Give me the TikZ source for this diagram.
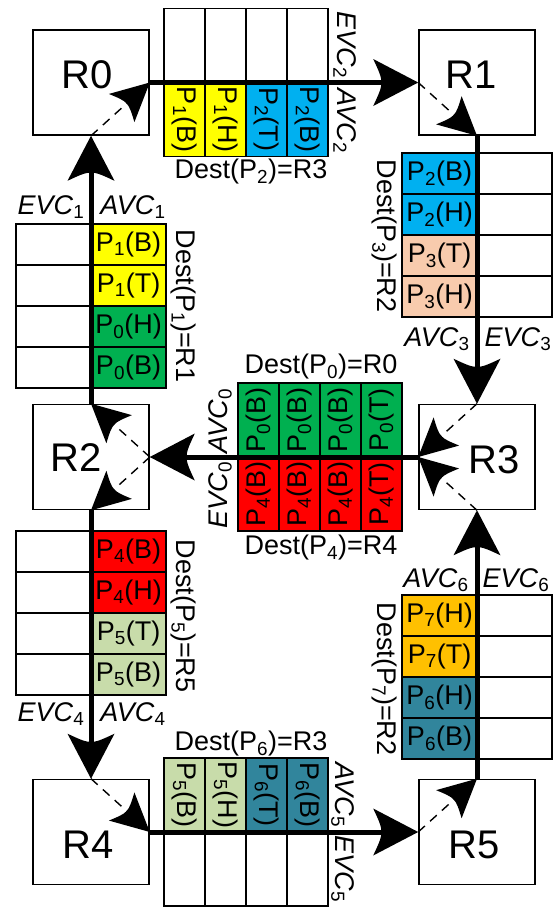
\documentclass[tikz,border=0pt]{standalone}
\usepackage{fontspec}
\setmainfont{Liberation Sans}
\usetikzlibrary{calc}

\definecolor{cyel}{RGB}{255,255,0}
\definecolor{ccyan}{RGB}{0,176,240}
\definecolor{cgreen}{RGB}{0,176,80}
\definecolor{cred}{RGB}{255,0,0}
\definecolor{cpeach}{RGB}{248,203,173}
\definecolor{clime}{RGB}{200,220,170}
\definecolor{camber}{RGB}{255,192,0}
\definecolor{cteal}{RGB}{49,133,156}

% flit of packet #1, kind #2
\newcommand\pk[2]{P\textsubscript{#1}(#2)}
% virtual channel label: #1 = A or E, #2 = index
\newcommand\vcl[2]{\textit{#1VC}\textsubscript{#2}}
\newcommand\routerfont{\fontsize{40}{44}\selectfont}
\newcommand\cellfont{\fontsize{27}{30}\selectfont}
% arrow head #3 at #2, pointing along the direction from #1 to #2
\newcommand\headto[3]{\path let \p1=($(#2)-(#1)$), \n1={atan2(\y1,\x1)} in
  (#2) pic[rotate=\n1] {#3};}

\begin{document}
\begin{tikzpicture}[x=1pt,y=-1pt,
  router/.style={draw, line width=1.6pt, minimum width=116pt, minimum height=105pt,
                 inner sep=0pt},
  rname/.style={font=\routerfont},
  vcell/.style={draw, line width=1.6pt, minimum width=75pt, minimum height=41pt,
                inner sep=0pt, font=\cellfont},
  hcell/.style={draw, line width=1.6pt, minimum width=74pt, minimum height=41pt,
                inner sep=0pt, font=\cellfont},
  txt/.style={font=\cellfont, inner sep=0pt},
  link/.style={line width=5pt, shorten >=10pt},
  routeline/.style={line width=1.4pt, dash pattern=on 9pt off 7pt, shorten >=6pt},
  bighead/.pic={\fill (0,0) -- (-45,23.5) .. controls (-34,0) .. (-45,-23.5) -- cycle;},
  smallhead/.pic={\fill (0,0) -- (-38,19) .. controls (-29,0) .. (-38,-19) -- cycle;},
]
\useasboundingbox (0,0) rectangle (556,908);

% ---------- buffers ----------
% R0 -> R1
\foreach \x/\t/\c [count=\i] in {184.5/{\pk{1}{B}}/cyel, 225.5/{\pk{1}{H}}/cyel,
                                 266.5/{\pk{2}{T}}/ccyan, 307.5/{\pk{2}{B}}/ccyan}{
  \node[hcell, fill=\c, rotate=-90] (ta\i) at (\x,119.5) {\t};
  \node[hcell, rotate=-90] (te\i) at (\x,45.5) {};
}
% R4 -> R5
\foreach \x/\t/\c [count=\i] in {184.5/{\pk{5}{B}}/clime, 225.5/{\pk{5}{H}}/clime,
                                 266.5/{\pk{6}{T}}/cteal, 307.5/{\pk{6}{B}}/cteal}{
  \node[hcell, fill=\c, rotate=-90] (ba\i) at (\x,795) {\t};
  \node[hcell, rotate=-90] (be\i) at (\x,869) {};
}
% R3 -> R2
\foreach \x/\t/\u [count=\i] in {258.5/B/B, 299.5/B/B, 340.5/B/B, 381.5/T/T}{
  \node[hcell, fill=cgreen, rotate=90] (ma\i) at (\x,420) {\pk{0}{\t}};
  \node[hcell, fill=cred, rotate=90] (me\i) at (\x,494) {\pk{4}{\u}};
}
% R2 -> R0
\foreach \y/\t/\c [count=\i] in {244.5/{\pk{1}{B}}/cyel, 285.5/{\pk{1}{T}}/cyel,
                                 326.5/{\pk{0}{H}}/cgreen, 367.5/{\pk{0}{B}}/cgreen}{
  \node[vcell, fill=\c] (la\i) at (128.5,\y) {\t};
  \node[vcell] (le\i) at (53.5,\y) {};
}
% R2 -> R4
\foreach \y/\t/\c [count=\i] in {551.5/{\pk{4}{B}}/cred, 592.5/{\pk{4}{H}}/cred,
                                 633.5/{\pk{5}{T}}/clime, 674.5/{\pk{5}{B}}/clime}{
  \node[vcell, fill=\c] (da\i) at (128.5,\y) {\t};
  \node[vcell] (de\i) at (53.5,\y) {};
}
% R1 -> R3
\foreach \y/\t/\c [count=\i] in {173.5/{\pk{2}{B}}/ccyan, 214.5/{\pk{2}{H}}/ccyan,
                                 255.5/{\pk{3}{T}}/cpeach, 296.5/{\pk{3}{H}}/cpeach}{
  \node[vcell, fill=\c] (ra\i) at (439.5,\y) {\t};
  \node[vcell] (re\i) at (514.5,\y) {};
}
% R5 -> R3
\foreach \y/\t/\c [count=\i] in {615.5/{\pk{7}{H}}/camber, 656.5/{\pk{7}{T}}/camber,
                                 697.5/{\pk{6}{H}}/cteal, 738.5/{\pk{6}{B}}/cteal}{
  \node[vcell, fill=\c] (ua\i) at (439.5,\y) {\t};
  \node[vcell] (ue\i) at (514.5,\y) {};
}

% ---------- routers ----------
\node[router] (R0) at (91,82.5) {};
\node[router] (R1) at (477,82.5) {};
\node[router] (R2) at (91,457) {};
\node[router] (R3) at (477,457) {};
\node[router] (R4) at (91,832) {};
\node[router] (R5) at (477,832) {};
\node[rname] (n0) at (87,75) {R0};
\node[rname] (n1) at (471,75) {R1};
\node[rname] (n2) at (76,458) {R2};
\node[rname] (n3) at (494,460) {R3};
\node[rname] (n4) at (88,845) {R4};
\node[rname] (n5) at (474,845) {R5};

% ---------- links ----------
\foreach \a/\b in {R0.east/R1.west, R1.south/R3.north, R3.west/R2.east,
                   R2.north/R0.south, R2.south/R4.north, R4.east/R5.west,
                   R5.north/R3.south}{
  \draw[link] (\a) -- (\b);
  \headto{\a}{\b}{bighead}
}

% ---------- routing inside the routers ----------
\foreach \a/\b in {R0.south/R0.east, R1.west/R1.south, R2.east/R2.north,
                   R2.east/R2.south, R3.north/R3.west, R3.south/R3.west,
                   R4.north/R4.east, R5.west/R5.north}{
  \draw[routeline] (\a) -- (\b);
  \headto{\a}{\b}{smallhead}
}

% ---------- channel labels ----------
\node[txt, rotate=-90] (evc2) at (345,45) {\vcl{E}{2}};
\node[txt, rotate=-90] (avc2) at (345,121) {\vcl{A}{2}};
\node[txt] (evc1) at (51,207) {\vcl{E}{1}};
\node[txt] (avc1) at (133,207) {\vcl{A}{1}};
\node[txt] (avc3) at (437,339) {\vcl{A}{3}};
\node[txt] (evc3) at (518,339) {\vcl{E}{3}};
\node[txt, rotate=90] (avc0) at (220,421) {\vcl{A}{0}};
\node[txt, rotate=90] (evc0) at (220,495) {\vcl{E}{0}};
\node[txt] (avc6) at (436,580) {\vcl{A}{6}};
\node[txt] (evc6) at (516,580) {\vcl{E}{6}};
\node[txt] (evc4) at (51,714) {\vcl{E}{4}};
\node[txt] (avc4) at (133,714) {\vcl{A}{4}};
\node[txt, rotate=-90] (avc5) at (343,795) {\vcl{A}{5}};
\node[txt, rotate=-90] (evc5) at (343,869) {\vcl{E}{5}};

% ---------- destinations ----------
\node[txt] (d2) at (251,172) {Dest(P\textsubscript{2})=R3};
\node[txt, rotate=-90] (d1) at (183,306) {Dest(P\textsubscript{1})=R1};
\node[txt, rotate=-90] (d3) at (384,236) {Dest(P\textsubscript{3})=R2};
\node[txt] (d0) at (321,367) {Dest(P\textsubscript{0})=R0};
\node[txt] (d4) at (321,548) {Dest(P\textsubscript{4})=R4};
\node[txt, rotate=-90] (d5) at (183,616) {Dest(P\textsubscript{5})=R5};
\node[txt, rotate=-90] (d7) at (384,679) {Dest(P\textsubscript{7})=R2};
\node[txt] (d6) at (251,744) {Dest(P\textsubscript{6})=R3};
\end{tikzpicture}
\end{document}
